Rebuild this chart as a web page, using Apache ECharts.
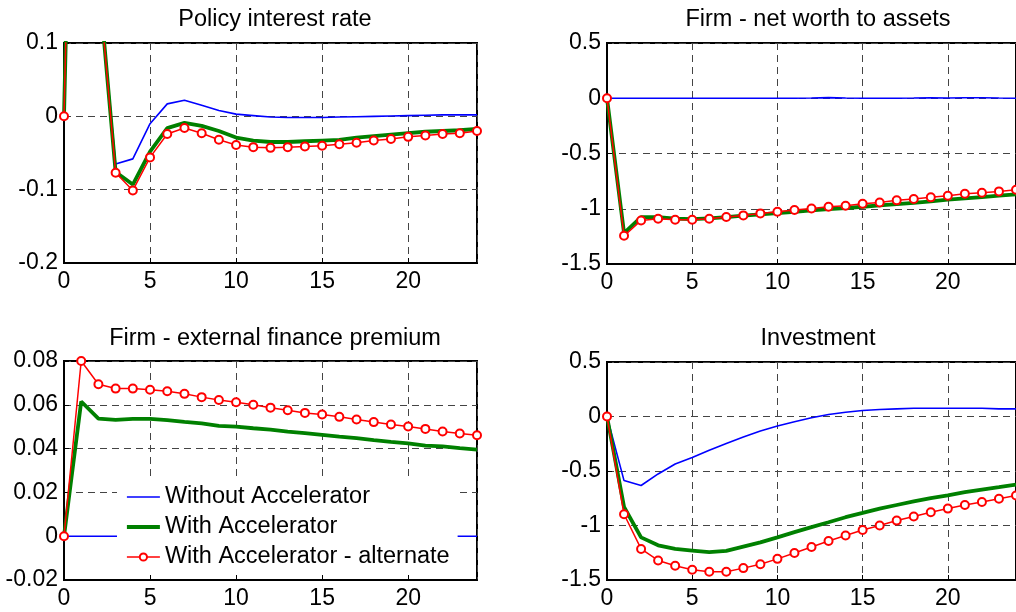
<!DOCTYPE html>
<html>
<head>
<meta charset="utf-8">
<script src="https://cdn.jsdelivr.net/npm/echarts@6/dist/echarts.min.js"></script>
<style>
  html, body { margin: 0; padding: 0; background: #fff; }
  #chart { width: 1016px; height: 612px; }
</style>
</head>
<body>
<div id="chart"></div>
<script>
// ---- data ----
const periods = [0,1,2,3,4,5,6,7,8,9,10,11,12,13,14,15,16,17,18,19,20,21,22,23,24];

const seriesNames = ['Without Accelerator', 'With Accelerator', 'With Accelerator - alternate'];
const panelTitles = ['Policy interest rate', 'Firm - net worth to assets', 'Firm - external finance premium', 'Investment'];

// Policy interest rate
const rateWithout = [0, 1.0, 0.19, -0.065, -0.058, -0.010, 0.017, 0.022, 0.015, 0.008, 0.003, 0.001, -0.001, -0.0015, -0.0015, -0.0015, -0.001, -0.0005, 0, 0.0005, 0.001, 0.0015, 0.002, 0.002, 0.002];
const rateWith = [0, 1.0, 0.19, -0.076, -0.093, -0.048, -0.016, -0.009, -0.013, -0.020, -0.029, -0.033, -0.035, -0.035, -0.034, -0.033, -0.032, -0.029, -0.027, -0.025, -0.023, -0.021, -0.020, -0.019, -0.017];
const rateAlt = [0, 1.0, 0.19, -0.077, -0.101, -0.056, -0.024, -0.016, -0.023, -0.032, -0.039, -0.042, -0.043, -0.042, -0.041, -0.040, -0.038, -0.036, -0.033, -0.031, -0.028, -0.026, -0.024, -0.023, -0.020];

// Firm - net worth to assets
const nwWithout = [0, 0, 0, 0, 0, 0, 0, 0, 0, 0, 0, 0, 0.002, 0.006, 0.002, 0, 0, 0, 0.002, 0.005, 0.002, 0.005, 0.005, 0.002, 0];
const nwWith = [0, -1.22, -1.075, -1.075, -1.09, -1.094, -1.088, -1.075, -1.063, -1.051, -1.039, -1.027, -1.015, -1.003, -0.994, -0.982, -0.970, -0.958, -0.946, -0.933, -0.918, -0.906, -0.894, -0.882, -0.870];
const nwAlt = [0, -1.245, -1.106, -1.09, -1.10, -1.10, -1.09, -1.075, -1.06, -1.042, -1.027, -1.012, -0.997, -0.982, -0.973, -0.955, -0.943, -0.924, -0.912, -0.897, -0.882, -0.864, -0.855, -0.843, -0.828];

// Firm - external finance premium
const efpWithout = [0, 0, 0, 0, 0, 0, 0, 0, 0, 0, 0, 0, 0, 0, 0, 0, 0, 0, 0, 0, 0, 0, 0, 0, 0];
const efpWith = [0, 0.0615, 0.0537, 0.0531, 0.0536, 0.0536, 0.0530, 0.0522, 0.0515, 0.0504, 0.0500, 0.0493, 0.0487, 0.0478, 0.0471, 0.0463, 0.0455, 0.0448, 0.0439, 0.0431, 0.0424, 0.0414, 0.0410, 0.0402, 0.0395];
const efpAlt = [0, 0.0800, 0.0694, 0.0674, 0.0674, 0.0669, 0.0662, 0.0650, 0.0635, 0.0622, 0.0612, 0.0600, 0.0587, 0.0575, 0.0563, 0.0556, 0.0545, 0.0533, 0.0521, 0.0510, 0.0501, 0.0490, 0.0478, 0.0469, 0.0461];

// Investment
const invWithout = [0, -0.588, -0.633, -0.527, -0.436, -0.376, -0.309, -0.248, -0.188, -0.133, -0.088, -0.048, -0.012, 0.018, 0.039, 0.055, 0.064, 0.070, 0.076, 0.076, 0.076, 0.076, 0.076, 0.070, 0.070];
const invWith = [0, -0.83, -1.109, -1.182, -1.215, -1.230, -1.245, -1.233, -1.194, -1.155, -1.109, -1.061, -1.015, -0.970, -0.924, -0.885, -0.845, -0.812, -0.779, -0.748, -0.724, -0.694, -0.670, -0.648, -0.624];
const invAlt = [0, -0.897, -1.215, -1.321, -1.370, -1.406, -1.424, -1.424, -1.391, -1.355, -1.306, -1.252, -1.197, -1.142, -1.091, -1.042, -1.000, -0.955, -0.918, -0.879, -0.845, -0.812, -0.785, -0.755, -0.724];

// axis ranges
const xRange = [0, 24, 5];
const yRanges = [[-0.2, 0.1, 0.1], [-1.5, 0.5, 0.5], [-0.02, 0.08, 0.02], [-1.5, 0.5, 0.5]];

const panelData = [
  [rateWithout, rateWith, rateAlt],
  [nwWithout, nwWith, nwAlt],
  [efpWithout, efpWith, efpAlt],
  [invWithout, invWith, invAlt]
];

// ---- layout ----
const FONT = 'Liberation Sans, Arial, Helvetica, sans-serif';
const grids = [
  { left: 64, top: 43, width: 413, height: 220 },
  { left: 607, top: 43, width: 412, height: 221 },
  { left: 64, top: 361, width: 413, height: 219 },
  { left: 607, top: 362, width: 412, height: 218 }
];
const titlePos = [
  { left: 270, top: 3 },
  { left: 813, top: 3 },
  { left: 270, top: 322 },
  { left: 813, top: 322 }
];

const gridLine = { show: true, lineStyle: { color: '#444', width: 1, type: [7, 5] } };

const xAxes = grids.map((g, i) => ({
  type: 'value', gridIndex: i, min: xRange[0], max: xRange[1], interval: xRange[2],
  axisLine: { show: true, onZero: false, lineStyle: { color: '#000', width: 2 } },
  axisTick: { show: true, inside: true, length: 5, lineStyle: { color: '#000', width: 1 } },
  axisLabel: { show: true, margin: 7, color: '#000', fontSize: 23, fontFamily: FONT, showMaxLabel: false },
  splitLine: gridLine
}));

const yAxes = grids.map((g, i) => ({
  type: 'value', gridIndex: i, min: yRanges[i][0], max: yRanges[i][1], interval: yRanges[i][2],
  axisLine: { show: true, onZero: false, lineStyle: { color: '#000', width: 2 } },
  axisTick: { show: true, inside: true, length: 5, lineStyle: { color: '#000', width: 1 } },
  axisLabel: { show: true, margin: 6, color: '#000', fontSize: 23, fontFamily: FONT },
  splitLine: gridLine
}));

const styles = [
  { color: '#0000ff', width: 1.6, symbol: 'none' },
  { color: '#008000', width: 3.8, symbol: 'none' },
  { color: '#ff0000', width: 1.5, symbol: 'emptyCircle' }
];

const series = [];
panelData.forEach((sets, p) => {
  sets.forEach((vals, k) => {
    const st = styles[k];
    series.push({
      name: seriesNames[k],
      type: 'line',
      xAxisIndex: p, yAxisIndex: p,
      data: periods.map((x, j) => [x, vals[j]]),
      symbol: st.symbol,
      symbolSize: 8,
      showSymbol: st.symbol !== 'none',
      clip: true,
      lineStyle: { color: st.color, width: st.width },
      itemStyle: { color: st.color, borderColor: st.color, borderWidth: 1.5 },
      z: 2 + k,
      emphasis: { disabled: true },
      silent: true
    });
  });
});

const hidden = 'rgba(0,0,0,0)';
const option = {
  animation: false,
  backgroundColor: '#fff',
  title: panelTitles.map((t, i) => ({
    text: t, left: titlePos[i].left, top: titlePos[i].top, textAlign: 'center',
    textStyle: { fontSize: 23.5, fontWeight: 'normal', color: '#000', fontFamily: FONT }
  })),
  grid: grids.map(g => Object.assign({ show: true, borderColor: '#000', borderWidth: 2, backgroundColor: 'transparent' }, g)),
  xAxis: xAxes,
  yAxis: yAxes,
  legend: {
    orient: 'vertical',
    left: 117, top: 479,
    padding: [6, 8, 6, 8],
    itemGap: 6,
    itemWidth: 33, itemHeight: 9,
    backgroundColor: '#fff',
    borderWidth: 0,
    data: [
      { name: seriesNames[0], itemStyle: { color: hidden, borderColor: hidden }, lineStyle: { width: 1.6 } },
      { name: seriesNames[1], itemStyle: { color: hidden, borderColor: hidden }, lineStyle: { width: 3.8 } },
      { name: seriesNames[2], lineStyle: { width: 1.5 } }
    ],
    textStyle: { fontSize: 23.5, color: '#000', fontFamily: FONT, lineHeight: 22 },
    z: 10
  },
  series: series
};

const chart = echarts.init(document.getElementById('chart'), null, { renderer: 'canvas' });
chart.setOption(option);
</script>
</body>
</html>
